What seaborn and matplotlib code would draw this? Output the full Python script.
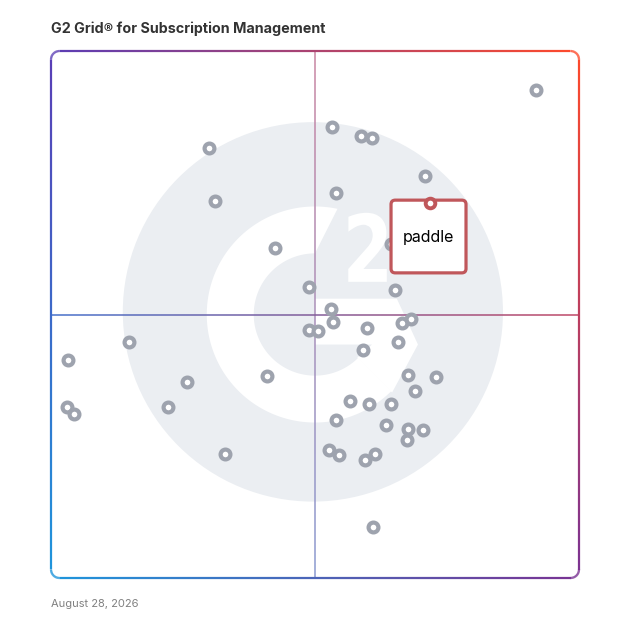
import numpy as np
import pandas as pd
import matplotlib
matplotlib.use("Agg")
import matplotlib.pyplot as plt
import seaborn as sns
import matplotlib.colors as mcolors
from matplotlib.collections import LineCollection
from matplotlib.patches import Circle, Polygon, FancyBboxPatch, PathPatch
from matplotlib.textpath import TextPath
from matplotlib.font_manager import FontProperties
from matplotlib.transforms import Affine2D

title = "G2 Grid® for Subscription Management"
date_label = "August 28, 2026"

# satisfaction (x) and market presence (y), both on a 0-100 scale
satisfaction = [29.9, 91.9, 53.2, 58.7, 60.8, 70.8, 54.0, 31.1, 42.4, 64.4,
                48.8, 65.2, 53.1, 48.9, 50.6, 53.4, 59.8, 66.4, 68.1, 65.7,
                59.0, 3.2, 14.8, 25.7, 40.9, 22.2, 3.1, 4.3, 67.6, 73.0,
                69.0, 56.6, 60.3, 64.3, 54.0, 63.4, 67.7, 70.5, 67.4, 33.0,
                52.7, 54.6, 59.4, 61.4, 61.0]
market_presence = [81.5, 92.6, 85.6, 83.9, 83.5, 76.3, 73.1, 71.5, 62.6, 63.4,
                   55.2, 54.6, 51.0, 47.1, 46.9, 48.6, 47.4, 48.3, 49.1, 44.8,
                   43.3, 41.3, 44.8, 37.1, 38.4, 32.5, 32.5, 31.1, 38.5, 38.1,
                   35.4, 33.5, 33.1, 33.1, 29.9, 29.0, 28.2, 28.1, 26.2, 23.5,
                   24.2, 23.3, 22.4, 23.6, 9.7]

highlight_name = "paddle"
highlight_x = 71.8
highlight_y = 71.1

grey = "#9ea3ae"
red = "#c0575b"
logo_bg = "#ebeef2"

# corner colours of the border gradient
TL = np.array(mcolors.to_rgb("#5a3db5"))
TR = np.array(mcolors.to_rgb("#ff4a2a"))
BL = np.array(mcolors.to_rgb("#1e96dc"))
BR = np.array(mcolors.to_rgb("#7a3393"))


def grad_color(u, v, fade=0.0):
    c = (1-u)*(1-v)*BL + u*(1-v)*BR + (1-u)*v*TL + u*v*TR
    return c*(1-fade) + fade


def gradient_line(ax, xs, ys, lw, fade, z):
    pts = np.column_stack([xs, ys])
    segs = np.stack([pts[:-1], pts[1:]], axis=1)
    mid = (pts[:-1] + pts[1:]) / 2
    cols = [grad_color(m[0]/100, m[1]/100, fade) for m in mid]
    lc = LineCollection(segs, colors=cols, linewidths=lw, zorder=z,
                        clip_on=False, capstyle="butt")
    ax.add_collection(lc)


def rounded_rect(r, n=3000):
    pts = []
    corners = [(100-r, r, -90, 0), (100-r, 100-r, 0, 90),
               (r, 100-r, 90, 180), (r, r, 180, 270)]
    for cx, cy, a0, a1 in corners:
        t = np.radians(np.linspace(a0, a1, 25))
        pts.extend(zip(cx + r*np.cos(t), cy + r*np.sin(t)))
    pts.append(pts[0])
    pts = np.array(pts)
    d = np.r_[0, np.cumsum(np.hypot(*np.diff(pts, axis=0).T))]
    s = np.linspace(0, d[-1], n)
    return np.interp(s, d, pts[:, 0]), np.interp(s, d, pts[:, 1])


sns.set_theme(style="white")
plt.rcParams["font.family"] = ["Inter", "DejaVu Sans"]

fig = plt.figure(figsize=(6.28, 6.28), dpi=100)
ax = fig.add_axes([51/628, 50/628, 528/628, 527/628])
ax.set_xlim(0, 100)
ax.set_ylim(0, 100)
ax.axis("off")

# G2 watermark
cx, cy = 50, 50
ax.add_patch(Circle((49.6, 50.5), 36, fc=logo_bg, ec="none", zorder=1))
r_out, r_in = 20.5, 11.6
a_out = np.radians(np.linspace(78, 315, 200))
a_in = np.radians(np.linspace(315, 90, 200))
ring = np.vstack([np.column_stack([cx + r_out*np.cos(a_out), cy + r_out*np.sin(a_out)]),
                  np.column_stack([cx + r_in*np.cos(a_in), cy + r_in*np.sin(a_in)])])
ax.add_patch(Polygon(ring, closed=True, fc="white", ec="none", zorder=2))
bar = np.array([(0, 3.0), (15.5, 3.0), (19.5, -5.7), (14.6, -14.8),
                (8.0, -8.2), (10.8, -5.7), (0, -5.7)]) + [cx, cy]
ax.add_patch(Polygon(bar, closed=True, fc="white", ec="none", zorder=2))
tp = TextPath((0, 0), "2", size=1, prop=FontProperties(family="DejaVu Sans", weight="bold"))
ext = tp.get_extents()
tr = Affine2D().translate(-ext.x0, -ext.y0).scale(7.3/ext.width, 13.1/ext.height).translate(56.3, 56.2)
ax.add_patch(PathPatch(tr.transform_path(tp), fc="white", ec="none", zorder=2))

# quadrant lines and border
ys = np.linspace(0, 100, 400)
gradient_line(ax, np.full_like(ys, 50), ys, 1.1, 0.35, 3)
xs = np.linspace(0, 100, 400)
gradient_line(ax, xs, np.full_like(xs, 50), 1.1, 0.05, 3)
bx, by = rounded_rect(1.6)
gradient_line(ax, bx, by, 1.6, 0.0, 4)

# products
df = pd.DataFrame({"satisfaction": satisfaction, "market_presence": market_presence})
sns.scatterplot(data=df, x="satisfaction", y="market_presence", ax=ax, s=50,
                color="white", edgecolor=grey, linewidth=3.0, zorder=5, legend=False)
ax.axis("off")

# highlighted product card
ax.add_patch(FancyBboxPatch((highlight_x - 7.4, highlight_y - 13.2), 14.2, 13.8,
                            boxstyle="round,pad=0,rounding_size=0.8",
                            fc="white", ec=red, lw=2.3, zorder=6))
ax.scatter([highlight_x], [highlight_y], s=48, color="white", edgecolor=red,
           linewidth=2.8, zorder=7)
ax.text(highlight_x - 0.4, highlight_y - 6.4, highlight_name, ha="center", va="center",
        fontsize=11.5, fontweight="normal", color="black", zorder=7)

fig.text(51/628, 1 - 29/628, title, ha="left", va="center", fontsize=10.3,
         fontweight="bold", color="#333333")
fig.text(51/628, 1 - 604/628, date_label, ha="left", va="center", fontsize=8,
         color="#808080")

fig.savefig("out.png", dpi=100, facecolor="white")
